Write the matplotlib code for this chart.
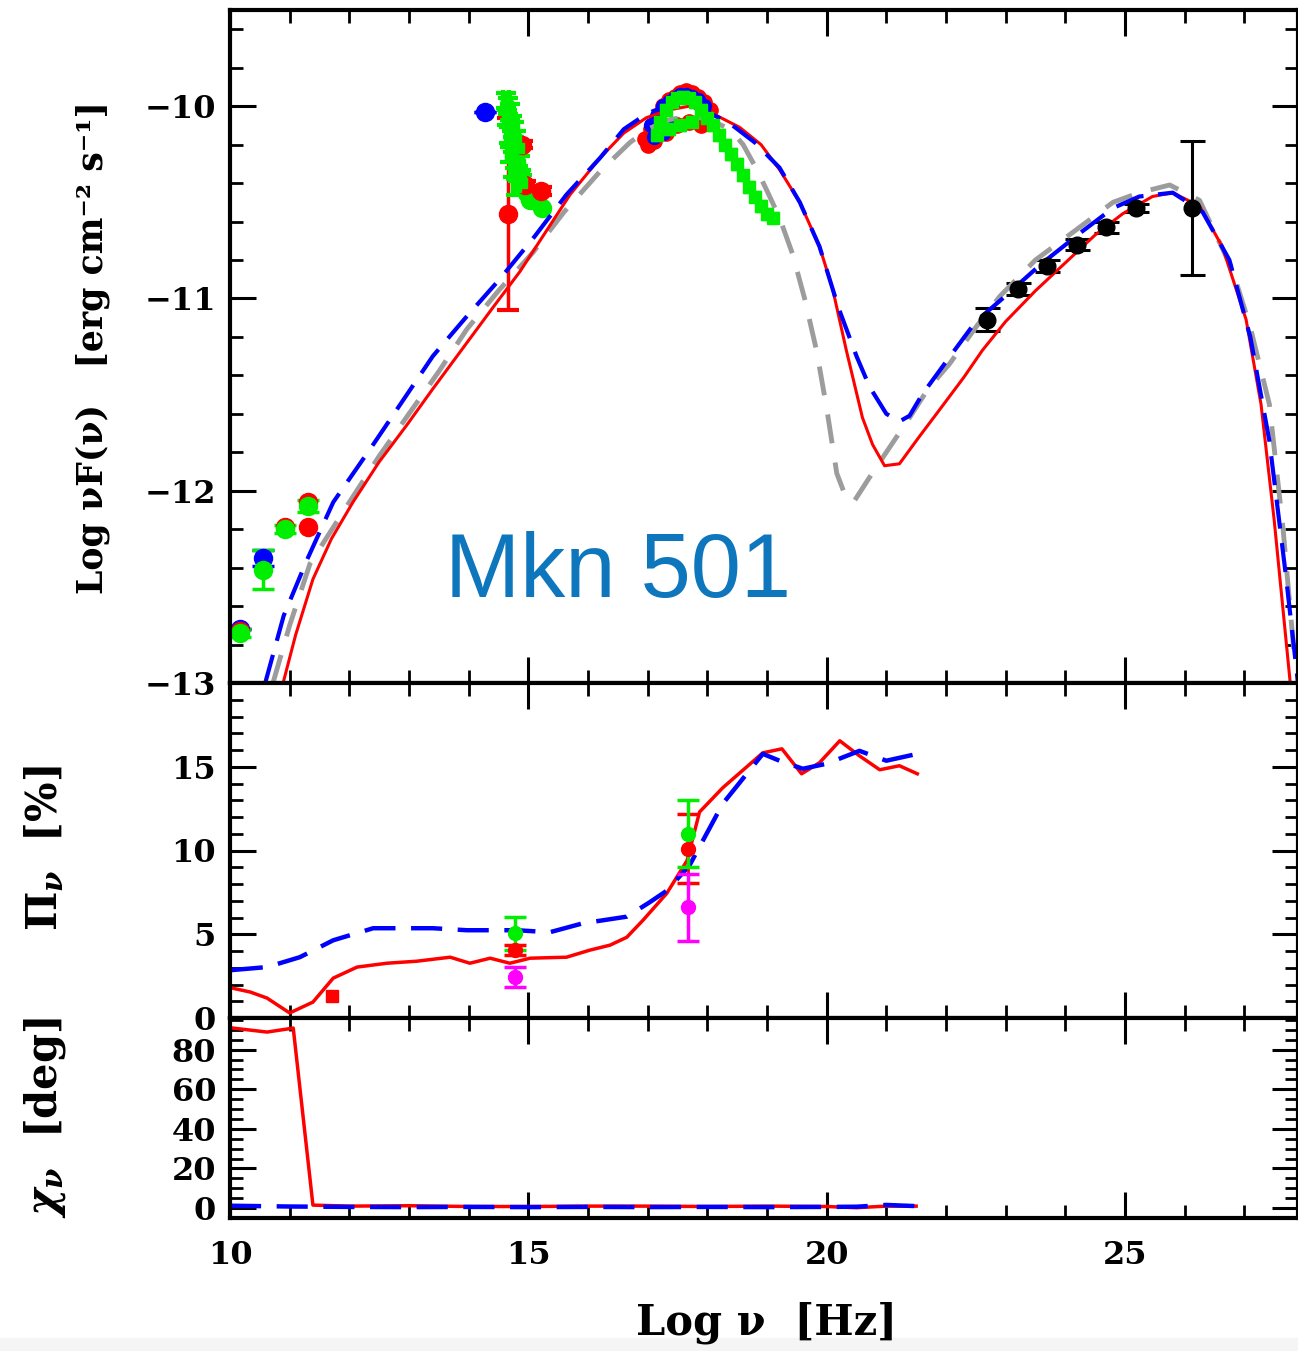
import matplotlib
matplotlib.use("Agg")
import matplotlib.pyplot as plt
from matplotlib.ticker import MultipleLocator
from matplotlib.patches import Rectangle

plt.rcParams['font.family'] = ['DejaVu Serif']
plt.rcParams['font.weight'] = 'bold'
plt.rcParams['mathtext.fontset'] = 'dejavuserif'

RED = '#ff0000'
BLUE = '#0000ff'
GRAY = '#9c9c9c'
GREEN = '#00ee00'
MAG = '#ff00ff'

# ---- SED model curves (log nu, log nuF) ----
red_x = [10.89, 11.1, 11.39, 11.7, 12.06, 12.5, 12.96, 13.4, 13.9, 14.4, 14.86, 15.3, 15.7, 16.2,
         16.6, 16.98, 17.35, 17.7, 18.1, 18.54, 18.9, 19.21, 19.55, 19.88, 20.1, 20.33, 20.6,
         20.77, 20.97, 21.22, 21.55, 21.89, 22.3, 22.61, 23.0, 23.5, 24.12, 24.5, 24.96, 25.46,
         25.8, 26.25, 26.63, 27.03, 27.28, 27.5, 27.77]
red_y = [-13.0, -12.75, -12.46, -12.25, -12.06, -11.85, -11.66, -11.47, -11.26, -11.05, -10.86,
         -10.65, -10.46, -10.27, -10.14, -10.06, -10.02, -10.0, -10.04, -10.11, -10.2, -10.33,
         -10.5, -10.73, -10.95, -11.27, -11.62, -11.76, -11.87, -11.86, -11.72, -11.58, -11.41,
         -11.27, -11.12, -10.96, -10.78, -10.67, -10.56, -10.47, -10.45, -10.52, -10.73, -11.11,
         -11.55, -12.15, -13.0]

blue_x = [10.59, 10.9, 11.29, 11.73, 12.4, 12.9, 13.4, 13.95, 14.52, 15.1, 15.64, 16.2, 16.6,
          16.98, 17.3, 17.65, 18.0, 18.38, 18.8, 19.21, 19.55, 19.88, 20.2, 20.5, 20.72, 21.0,
          21.22, 21.39, 21.6, 22.0, 22.5, 22.95, 23.6, 24.29, 24.8, 25.24, 25.8, 26.3, 26.75,
          27.1, 27.42, 27.7, 27.9]
blue_y = [-13.0, -12.65, -12.36, -12.06, -11.76, -11.53, -11.30, -11.1, -10.90, -10.68, -10.46,
          -10.27, -10.12, -10.04, -10.0, -9.99, -10.03, -10.09, -10.19, -10.32, -10.5, -10.73,
          -11.05, -11.3, -11.46, -11.6, -11.64, -11.61, -11.5, -11.33, -11.12, -11.0, -10.82,
          -10.65, -10.53, -10.47, -10.45, -10.55, -10.80, -11.2, -11.74, -12.45, -13.0]

gray_x = [10.72, 11.0, 11.34, 12.0, 12.5, 13.0, 13.5, 13.97, 14.5, 15.08, 15.6, 16.2, 16.7,
          17.0, 17.37, 17.76, 18.1, 18.38, 18.6, 18.83, 19.0, 19.21, 19.43, 19.63, 19.83, 20.0,
          20.17, 20.33, 20.45, 20.72, 21.0, 21.39, 21.7, 22.06, 22.5, 22.9, 23.5, 24.24, 24.8,
          25.24, 25.75, 26.25, 26.8, 27.1, 27.42, 27.65, 27.85]
gray_y = [-13.0, -12.7, -12.38, -12.06, -11.82, -11.6, -11.38, -11.16, -10.96, -10.76, -10.55,
          -10.34, -10.19, -10.12, -10.07, -10.05, -10.08, -10.12, -10.2, -10.33, -10.44, -10.58,
          -10.77, -11.0, -11.27, -11.57, -11.91, -12.04, -12.06, -11.93, -11.8, -11.62, -11.47,
          -11.34, -11.15, -10.99, -10.8, -10.63, -10.5, -10.45, -10.41, -10.49, -10.85, -11.15,
          -11.55, -12.2, -12.9]

# ---- SED data ----
lo_green_x = [10.17, 10.55, 10.92, 11.31]
lo_green_y = [-12.74, -12.41, -12.2, -12.08]
lo_green_e = [0.02, 0.1, 0.02, 0.03]
lo_red_x = [10.17, 10.92, 11.31, 11.31]
lo_red_y = [-12.73, -12.19, -12.19, -12.06]
lo_blue_x = [10.17, 10.55, 14.27]
lo_blue_y = [-12.72, -12.35, -10.03]
lo_blue_e = [0.0, 0.04, 0.0]

opt_red_x = [14.66, 14.94, 15.21, 14.9]
opt_red_y = [-10.56, -10.41, -10.44, -10.2]
opt_red_e = [0.5, 0.02, 0.02, 0.02]
opt_grn_x = [14.62, 14.66, 14.7, 14.64, 14.72, 14.76, 14.68, 14.8, 14.74, 14.84, 14.7, 14.78,
             14.86, 14.75, 14.82, 14.88, 14.9, 14.8]
opt_grn_y = [-9.97, -10.0, -10.03, -10.06, -10.09, -10.12, -10.15, -10.17, -10.2, -10.22,
             -10.25, -10.28, -10.3, -10.33, -10.35, -10.37, -10.4, -10.42]
opt_circ_x = [14.98, 15.03, 15.23]
opt_circ_y = [-10.45, -10.49, -10.53]

xr_red_x = [16.95, 17.05, 17.15, 17.25, 17.35, 17.45, 17.55, 17.65, 17.75, 17.85, 17.95, 18.05,
            17.0, 17.1, 17.3, 17.5, 17.7, 17.9]
xr_red_y = [-10.17, -10.12, -10.06, -10.0, -9.97, -9.95, -9.93, -9.92, -9.93, -9.95, -9.98,
            -10.02, -10.2, -10.18, -10.14, -10.1, -10.08, -10.1]
xr_blue_x = [17.05, 17.15, 17.25, 17.35, 17.45, 17.55, 17.65, 17.75, 17.85, 17.95, 17.1, 17.25,
             17.4]
xr_blue_y = [-10.1, -10.05, -10.0, -9.98, -9.96, -9.94, -9.94, -9.95, -9.97, -10.0, -10.16,
             -10.14, -10.1]
xr_grn_x = [17.2, 17.3, 17.4, 17.5, 17.6, 17.7, 17.8, 17.9, 18.0, 18.1, 18.2, 18.3, 18.4, 18.5,
            18.6, 18.7, 18.8, 18.9, 19.0, 19.1, 17.15, 17.35, 17.55, 17.75]
xr_grn_y = [-10.08, -10.02, -9.98, -9.96, -9.95, -9.96, -9.98, -10.02, -10.06, -10.1, -10.15,
            -10.2, -10.25, -10.3, -10.36, -10.42, -10.47, -10.52, -10.56, -10.58, -10.15,
            -10.12, -10.1, -10.08]

gam_x = [22.68, 23.2, 23.69, 24.19, 24.69, 25.19, 26.13]
gam_y = [-11.11, -10.95, -10.83, -10.72, -10.63, -10.53, -10.53]
gam_e = [0.06, 0.03, 0.03, 0.03, 0.03, 0.02, 0.35]

# ---- polarization degree ----
pi_red_x = [10.03, 10.34, 10.62, 11.0, 11.39, 11.73, 12.13, 12.63, 13.13, 13.69, 14.02, 14.36,
            14.69, 15.03, 15.64, 16.03, 16.37, 16.65, 16.92, 17.32, 17.66, 17.87, 18.26, 18.93,
            19.25, 19.58, 19.88, 20.22, 20.55, 20.89, 21.22, 21.52]
pi_red_y = [1.79, 1.55, 1.19, 0.3, 0.95, 2.38, 3.04, 3.27, 3.39, 3.63, 3.27, 3.57, 3.27, 3.57,
            3.63, 4.05, 4.35, 4.82, 5.83, 7.44, 9.4, 12.3, 13.75, 15.83, 16.07, 14.58, 15.24,
            16.55, 15.65, 14.82, 15.06, 14.58]
pi_blue_x = [10.03, 10.62, 11.17, 11.73, 12.4, 13.4, 13.97, 14.81, 15.36, 15.91, 16.65, 17.03,
             17.32, 17.7, 18.26, 18.93, 19.21, 19.6, 20.0, 20.55, 21.0, 21.52]
pi_blue_y = [2.86, 3.04, 3.63, 4.64, 5.36, 5.36, 5.24, 5.24, 5.12, 5.65, 6.05, 6.9, 7.6, 9.1,
             12.8, 15.77, 15.36, 14.88, 15.18, 15.95, 15.36, 15.77]

pd_x = [14.77, 17.67]
pd_green = [5.06, 11.0]
pd_green_e = [0.98, 2.0]
pd_red = [4.05, 10.1]
pd_red_e = [0.3, 2.05]
pd_mag = [2.44, 6.6]
pd_mag_e = [0.6, 2.0]
sq_x = [11.71]
sq_y = [1.31]

# ---- polarization angle ----
chi_red_x = [10.05, 10.62, 11.06, 11.39, 12.0, 13.0, 14.0, 15.0, 16.0, 17.0, 18.0, 19.0, 20.0,
             20.5, 21.0, 21.5]
chi_red_y = [90.9, 88.9, 90.9, 1.5, 1.0, 1.2, 0.8, 0.8, 1.0, 1.0, 0.8, 1.0, 0.8, 0.2, 1.0, 1.0]
chi_blue_x = [10.0, 11.0, 12.0, 13.0, 14.0, 15.0, 16.0, 17.0, 18.0, 19.0, 20.0, 20.5, 21.0, 21.5]
chi_blue_y = [1.2, 0.8, 0.6, 0.5, 0.6, 0.5, 0.6, 0.5, 0.6, 0.5, 0.6, 0.7, 1.6, 1.0]

W, H = 1298, 1351
fig = plt.figure(figsize=(W / 100, H / 100), dpi=100)
fig.patches.append(Rectangle((0, 0), 1, 1 - 1338 / H, transform=fig.transFigure,
                             color='#f5f5f5', zorder=-1))

def frac(x0, y0, x1, y1):
    return [x0 / W, 1 - y1 / H, (x1 - x0) / W, (y1 - y0) / H]

ax1 = fig.add_axes(frac(230, 10, 1298, 683))
ax2 = fig.add_axes(frac(230, 683, 1298, 1018))
ax3 = fig.add_axes(frac(230, 1018, 1298, 1218))

for ax in (ax1, ax2, ax3):
    ax.set_xlim(10, 27.9)
    ax.xaxis.set_major_locator(MultipleLocator(5))
    ax.xaxis.set_minor_locator(MultipleLocator(1))
    ax.tick_params(which='both', direction='in', top=True, right=True, labelsize=23, pad=10)
    ax.tick_params(which='major', length=19, width=2.2)
    ax.tick_params(which='minor', length=9.5, width=2)
    ax.tick_params(axis='x', pad=16)
    for s in ax.spines.values():
        s.set_linewidth(3)
ax1.tick_params(labelbottom=False)
ax2.tick_params(labelbottom=False)

# top panel
ax1.set_ylim(-13, -9.5)
ax1.set_yticks([-13, -12, -11, -10])
ax1.yaxis.set_minor_locator(MultipleLocator(0.2))
ax1.set_yticklabels(['\u221213', '\u221212', '\u221211', '\u221210'])

ms = 13
ax1.errorbar(lo_blue_x, lo_blue_y, yerr=lo_blue_e, fmt='o', color=BLUE, ms=ms, capsize=8, elinewidth=2.5, capthick=2.5)
ax1.errorbar(lo_red_x, lo_red_y, fmt='o', color=RED, ms=ms)
ax1.errorbar(lo_green_x, lo_green_y, yerr=lo_green_e, fmt='o', color=GREEN, ms=ms, capsize=8, elinewidth=2.5, capthick=2.5)
ax1.errorbar(opt_red_x, opt_red_y, yerr=opt_red_e, fmt='o', color=RED, ms=ms, capsize=8, elinewidth=2.5, capthick=3)
ax1.errorbar(opt_grn_x, opt_grn_y, yerr=0.04, xerr=0.05, fmt='s', color=GREEN, ms=7, capsize=7, elinewidth=2.5, capthick=3)
ax1.plot(opt_circ_x, opt_circ_y, 'o', color=GREEN, ms=ms)
ax1.plot(xr_red_x, xr_red_y, 'o', color=RED, ms=11)
ax1.plot(xr_blue_x, xr_blue_y, 'o', color=BLUE, ms=10)
ax1.errorbar(xr_grn_x, xr_grn_y, yerr=0.03, fmt='s', color=GREEN, ms=9, capsize=4, elinewidth=2)
ax1.errorbar(gam_x, gam_y, yerr=gam_e, fmt='o', color='black', ms=12, capsize=9, elinewidth=2.2, capthick=2.2)

ax1.plot(gray_x, gray_y, color=GRAY, lw=3.5, dashes=(6, 4))
ax1.plot(red_x, red_y, color=RED, lw=2.2)
ax1.plot(blue_x, blue_y, color=BLUE, lw=3, dashes=(7, 3.5))

fig.text(445 / W, 1 - 597 / H, 'Mkn 501', fontsize=65, color='#0e76bc',
         family='Liberation Sans', weight='normal', va='baseline', ha='left')

# middle panel
ax2.set_ylim(0, 20)
ax2.set_yticks([0, 5, 10, 15])
ax2.yaxis.set_minor_locator(MultipleLocator(1))
ax2.plot(pi_red_x, pi_red_y, color=RED, lw=2.5)
ax2.plot(pi_blue_x, pi_blue_y, color=BLUE, lw=3.2, dashes=(7, 3.5))
ax2.errorbar(pd_x, pd_red, yerr=pd_red_e, fmt='o', color=RED, ms=10, capsize=8, elinewidth=2, capthick=2.5)
ax2.errorbar(pd_x, pd_mag, yerr=pd_mag_e, fmt='o', color=MAG, ms=10, capsize=8, elinewidth=2.5, capthick=2.5)
ax2.errorbar(pd_x, pd_green, yerr=pd_green_e, fmt='o', color=GREEN, ms=10, capsize=8, elinewidth=2.5, capthick=2.5)
ax2.plot(sq_x, sq_y, 's', color=RED, ms=8)

# bottom panel
ax3.set_ylim(-5, 96)
ax3.set_yticks([0, 20, 40, 60, 80])
ax3.yaxis.set_minor_locator(MultipleLocator(5))
ax3.plot(chi_red_x, chi_red_y, color=RED, lw=2.5)
ax3.plot(chi_blue_x, chi_blue_y, color=BLUE, lw=3.2, dashes=(7, 3.5))

# labels
fig.text(93 / W, 1 - 348 / H, 'Log \u03bdF(\u03bd)   [erg cm\u207b\u00b2 s\u207b\u00b9]', rotation=90,
         fontsize=25, ha='center', va='center')
fig.text(45 / W, 1 - 848 / H, r'$\Pi_\nu$  [%]', rotation=90, fontsize=30, ha='center', va='center')
fig.text(45 / W, 1 - 1118 / H, r'$\chi_\nu$  [deg]', rotation=90, fontsize=30, ha='center', va='center')
fig.text(767 / W, 1 - 1323 / H, 'Log \u03bd  [Hz]', fontsize=30, ha='center', va='center')

fig.savefig('out.png', dpi=100)
